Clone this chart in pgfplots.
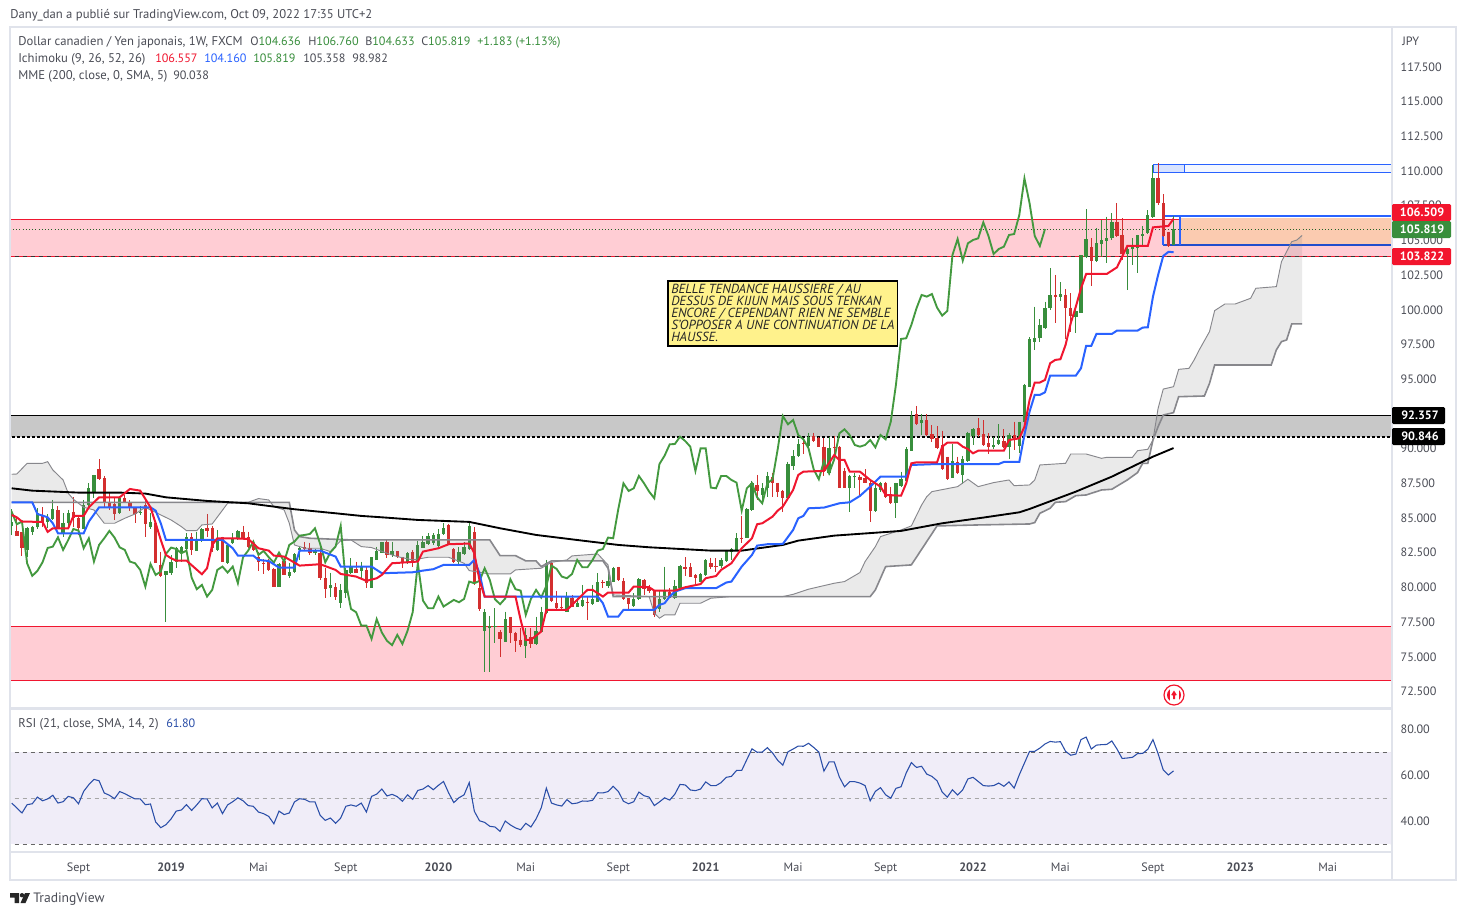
\documentclass[border=0pt]{standalone}
\usepackage{fontspec}
\setmainfont{PT Sans}
\usepackage{pgfplots}
\pgfplotsset{compat=1.18}
\usepackage{pgfplotstable}

\definecolor{framec}{HTML}{E0E3EB}
\definecolor{txt}{HTML}{4A4C55}
\definecolor{upc}{HTML}{388E3C}
\definecolor{downc}{HTML}{D32F2F}
\definecolor{tenkanc}{HTML}{F0162F}
\definecolor{kijunc}{HTML}{2962FF}
\definecolor{chikouc}{HTML}{43993F}
\definecolor{cloudc}{HTML}{87878C}
\definecolor{pinkz}{HTML}{FFCDD4}
\definecolor{grayz}{HTML}{C8C8C8}
\definecolor{linered}{HTML}{F0162F}
\definecolor{peach}{HTML}{FBCBB0}
\definecolor{toolblue}{HTML}{2962FF}
\definecolor{notefill}{HTML}{FFF28C}
\definecolor{rsib}{HTML}{F0EDF8}
\definecolor{rsil}{HTML}{2A4EA8}
\definecolor{tagred}{HTML}{F2152D}

\newcommand\tvf{\fontsize{9.1}{11}\selectfont}
\newcommand\tvt{\fontsize{9.5}{11}\selectfont}

% week index, open, high, low, close
\pgfplotstableread{
i o h l c
0 84.43 85.63 83.78 84.74
1 84.07 85.10 83.71 83.71
2 84.02 84.02 82.27 82.87
3 82.70 84.38 82.22 84.31
4 84.00 84.43 83.78 84.38
5 84.33 85.70 84.24 85.39
6 85.22 85.77 84.38 84.74
7 84.72 85.27 84.26 85.05
8 84.93 86.30 84.86 85.65
9 85.58 85.87 84.19 84.26
10 83.85 85.34 83.66 84.62
11 84.62 85.58 84.26 85.39
12 85.46 86.49 84.38 84.98
13 85.03 85.10 83.78 84.26
14 84.21 86.30 84.21 85.94
15 85.94 87.50 85.77 87.16
16 86.90 88.10 86.42 88.10
17 88.51 89.23 87.74 87.84
18 87.86 88.03 85.77 86.06
19 86.11 86.90 85.58 85.77
20 86.01 86.54 84.86 85.29
21 85.34 86.59 85.29 86.47
22 86.42 86.66 86.06 86.06
23 86.16 86.30 85.53 85.77
24 85.75 85.77 84.67 85.27
25 85.36 85.87 85.22 85.44
26 85.94 86.30 83.66 84.55
27 84.33 85.34 84.19 84.74
28 84.67 84.74 81.74 81.74
29 81.62 82.58 80.73 80.83
30 80.90 81.19 77.54 81.19
31 81.07 82.34 80.90 81.81
32 81.86 82.94 81.38 82.84
33 82.58 82.99 81.86 82.94
34 82.75 83.90 82.70 83.61
35 83.61 83.90 82.34 82.70
36 82.65 84.02 82.63 83.42
37 83.35 84.26 83.30 84.21
38 84.31 85.29 83.66 84.09
39 84.31 84.43 82.53 82.82
40 82.70 84.14 82.65 83.54
41 83.61 83.66 81.86 81.86
42 81.79 83.13 81.69 83.06
43 83.18 83.90 83.13 83.54
44 83.47 84.14 83.42 84.07
45 84.00 84.43 83.54 83.59
46 83.61 84.02 82.82 82.89
47 83.06 83.37 82.65 82.70
48 82.17 82.58 81.21 81.86
49 81.79 82.03 80.97 81.74
50 81.93 82.03 81.21 81.26
51 81.33 81.38 80.06 80.06
52 80.06 81.74 80.01 81.69
53 81.93 81.98 80.90 80.90
54 80.83 81.74 80.66 81.14
55 81.14 82.46 81.07 82.41
56 82.70 82.99 81.98 82.87
57 82.89 83.30 82.65 82.77
58 82.82 83.23 82.34 82.46
59 82.46 82.75 82.34 82.65
60 82.51 82.82 80.54 80.71
61 80.66 81.38 79.22 79.87
62 79.94 81.07 79.34 80.18
63 80.01 80.30 79.10 79.34
64 78.91 80.25 78.55 79.82
65 79.58 81.38 79.22 81.26
66 81.02 82.10 80.97 81.50
67 81.33 81.86 81.02 81.07
68 81.21 81.86 80.66 81.50
69 81.26 81.50 79.94 80.30
70 79.99 82.17 79.99 82.17
71 81.98 82.94 81.98 82.65
72 82.51 83.30 82.46 83.30
73 83.30 83.47 82.10 82.34
74 82.32 83.30 82.22 82.63
75 82.63 82.63 82.10 82.17
76 82.22 82.22 81.38 81.79
77 81.74 82.53 81.69 82.51
78 82.58 82.70 81.50 81.86
79 81.93 83.37 81.74 83.06
80 82.87 83.71 82.82 83.30
81 83.13 83.90 83.06 83.73
82 83.23 83.90 83.06 83.78
83 82.99 84.19 82.94 83.85
84 83.85 84.62 83.78 84.26
85 84.50 84.57 83.06 83.13
86 82.75 82.82 81.74 81.81
87 81.86 82.89 81.62 82.53
88 82.39 83.30 82.34 82.94
89 82.75 84.74 82.70 84.43
90 83.97 84.33 80.18 80.35
91 79.94 80.90 78.31 78.45
92 76.89 78.43 73.94 78.21
93 77.04 77.95 73.87 77.25
94 77.18 78.50 76.03 77.25
95 76.77 76.94 75.02 76.29
96 76.10 78.26 76.05 77.71
97 77.88 77.90 75.98 76.75
98 76.70 76.82 75.38 76.15
99 76.22 77.06 75.74 75.84
100 75.81 77.06 74.90 76.58
101 76.41 77.06 75.67 75.93
102 75.93 77.90 75.86 76.87
103 76.82 78.62 76.77 78.21
104 78.14 81.98 78.09 81.74
105 81.74 81.86 78.98 79.05
106 78.86 79.77 78.43 78.50
107 78.57 79.34 78.43 78.50
108 78.26 79.70 78.21 79.34
109 79.27 79.46 78.57 78.62
110 78.62 79.22 78.57 78.86
111 78.67 80.18 78.62 79.10
112 78.98 79.34 77.66 78.93
113 78.81 80.18 78.74 79.17
114 78.98 81.02 78.93 80.42
115 80.42 80.54 79.94 80.30
116 80.11 81.50 79.94 80.47
117 80.42 81.50 80.37 81.38
118 81.48 81.50 80.47 80.54
119 80.47 80.66 79.10 79.15
120 79.22 79.22 78.38 78.79
121 78.69 79.58 78.62 79.20
122 79.15 80.66 79.10 80.59
123 80.54 80.61 79.46 79.87
124 79.94 80.18 79.58 79.77
125 79.77 79.82 77.90 78.02
126 78.43 79.82 78.26 79.17
127 79.15 81.50 79.10 79.82
128 79.70 79.94 79.22 79.27
129 79.22 80.54 79.17 80.11
130 79.99 81.62 79.94 81.57
131 81.48 82.17 80.83 81.33
132 81.45 81.74 80.73 80.78
133 80.90 80.97 80.25 80.66
134 80.42 81.07 80.37 80.97
135 80.90 82.03 80.85 81.98
136 81.74 82.15 81.31 81.45
137 81.55 82.10 81.14 81.45
138 81.55 82.10 81.38 81.98
139 81.93 82.70 81.86 82.65
140 82.53 82.82 81.98 82.77
141 82.70 83.90 82.65 83.59
142 83.59 85.15 83.18 83.54
143 83.59 85.70 83.54 85.65
144 85.58 87.69 85.53 87.50
145 87.38 88.10 86.30 86.95
146 86.66 87.50 86.01 87.14
147 87.19 88.34 86.54 88.03
148 87.93 88.27 86.49 87.50
149 87.55 87.55 86.54 86.90
150 86.97 87.02 85.46 86.42
151 86.42 89.06 86.37 88.89
152 88.77 89.90 88.46 89.49
153 89.47 90.67 89.42 90.31
154 90.38 90.74 89.61 90.33
155 90.19 91.15 90.09 90.86
156 90.91 91.15 90.50 90.55
157 90.79 90.86 90.09 90.14
158 90.14 90.74 88.03 88.39
159 88.22 90.86 88.10 90.02
160 90.14 90.91 89.18 90.02
161 90.14 90.19 87.14 87.19
162 88.41 88.58 87.14 87.14
163 87.19 88.10 85.46 88.03
164 87.93 88.22 87.14 88.03
165 87.98 88.10 86.66 87.74
166 87.86 88.51 87.50 87.55
167 87.55 87.74 84.74 85.53
168 85.51 87.50 85.46 87.14
169 87.02 87.62 86.90 87.50
170 87.55 87.62 86.42 86.49
171 86.66 87.26 86.01 86.06
172 86.06 87.55 84.98 87.50
173 87.33 88.34 87.26 87.79
174 87.69 90.09 87.62 89.95
175 89.85 92.73 89.80 92.35
176 92.49 93.07 91.70 91.75
177 91.82 92.49 90.98 92.06
178 92.06 92.49 90.93 90.98
179 91.05 91.70 90.50 90.67
180 90.79 91.63 89.95 90.02
181 90.26 91.29 88.46 88.51
182 89.42 89.42 87.74 87.79
183 87.91 90.31 87.86 89.11
184 89.06 89.42 88.17 88.22
185 88.10 89.47 87.45 89.23
186 89.13 91.22 89.06 91.10
187 90.93 91.46 90.26 91.39
188 91.46 92.18 90.86 90.98
189 91.05 92.06 90.19 90.26
190 90.38 91.10 89.61 90.14
191 90.14 90.86 89.95 90.26
192 90.33 91.75 90.26 90.62
193 90.55 91.39 90.02 90.09
194 90.14 91.10 89.25 90.98
195 90.98 91.94 89.90 90.67
196 90.19 91.94 89.71 91.94
197 91.95 94.66 91.90 94.59
198 94.47 98.02 94.47 97.90
199 97.71 100.23 97.11 97.95
200 97.95 99.32 97.71 98.91
201 98.67 100.59 98.62 100.11
202 100.11 102.99 99.99 101.07
203 101.07 102.51 99.08 100.95
204 100.95 101.98 100.66 101.14
205 101.07 101.48 97.88 100.16
206 100.16 101.19 98.43 99.58
207 99.51 100.25 98.36 99.92
208 99.80 103.95 99.75 103.95
209 103.78 107.26 103.71 105.10
210 104.50 105.15 101.74 103.54
211 103.54 105.87 103.47 104.79
212 104.72 106.47 103.83 105.03
213 104.98 106.71 103.35 105.15
214 105.15 106.95 105.03 106.30
215 106.35 107.67 105.27 105.32
216 105.39 106.59 103.59 104.02
217 104.02 104.67 101.43 104.38
218 104.36 105.15 103.23 104.55
219 104.43 105.39 102.68 105.39
220 105.32 106.04 104.55 105.46
221 105.51 107.19 105.46 106.83
222 106.71 110.43 106.59 109.47
223 109.52 110.55 107.55 107.67
224 107.67 108.34 105.27 105.32
225 105.63 105.63 104.55 104.60
226 104.636 106.760 104.633 105.819
}\ohlc

\pgfplotstableread{
i p
0 85.22
1 85.05
2 84.74
6 84.72
7 84.00
8 84.26
11 84.26
12 85.15
14 85.15
15 85.77
17 86.49
21 86.49
23 87.09
25 86.97
27 85.77
28 84.62
29 83.42
30 82.34
31 82.10
32 81.93
34 81.93
37 80.95
38 81.38
39 83.06
40 83.54
43 83.54
46 83.49
48 82.82
50 82.65
51 82.29
53 82.22
56 81.57
60 81.67
63 81.26
64 80.97
67 80.78
69 80.47
71 80.66
72 80.90
74 81.74
79 81.86
80 82.58
83 82.82
85 83.11
89 83.16
90 82.46
91 80.50
92 79.34
98 79.34
99 77.66
100 76.22
101 76.22
103 76.82
104 78.38
108 78.38
110 79.10
112 79.82
113 79.82
115 79.34
116 79.63
120 79.63
121 80.06
124 80.01
125 79.77
129 79.77
131 80.01
134 80.24
135 80.66
137 80.82
138 81.26
140 81.74
142 82.82
144 83.54
145 84.55
146 84.62
148 85.10
149 85.53
150 85.82
152 87.02
153 88.10
154 88.34
158 88.39
160 89.54
161 89.18
162 89.18
163 88.34
165 88.34
167 87.74
169 87.26
170 86.66
173 86.61
174 87.50
175 88.94
176 89.01
180 89.01
181 90.14
182 90.43
184 90.43
185 90.14
186 89.97
187 89.66
188 89.85
193 89.85
194 90.62
196 90.74
197 91.58
198 93.51
199 94.76
200 94.76
201 94.95
202 96.15
203 96.39
204 96.44
205 97.47
206 99.03
207 100.23
208 101.55
209 102.58
213 102.58
215 103.06
216 103.83
217 104.60
221 104.60
222 105.94
225 106.04
226 106.557
}\tenkan

\pgfplotstableread{
i p
0 86.13
4 86.13
5 85.29
7 85.05
8 84.62
9 83.90
14 83.90
15 84.74
17 85.77
27 85.77
28 85.53
29 84.62
30 83.42
41 83.42
43 82.82
44 82.29
47 82.29
48 81.98
50 81.90
52 81.43
55 81.43
56 82.65
60 82.65
63 82.22
64 81.50
70 81.50
72 81.02
78 81.09
80 81.21
82 81.31
84 81.62
89 81.62
90 81.98
91 81.02
92 79.34
114 79.34
115 78.86
116 77.90
118 77.90
119 78.38
125 78.38
126 78.74
127 78.86
128 79.34
129 79.70
131 79.94
137 79.94
139 80.35
140 80.42
142 81.50
144 82.34
145 83.01
147 83.11
150 83.13
152 84.14
153 84.98
154 85.15
155 85.70
158 85.75
161 86.06
163 86.13
165 86.59
167 87.26
169 87.98
174 87.98
175 88.82
180 88.89
192 88.89
193 89.04
196 89.04
197 91.00
198 92.67
199 93.87
200 93.87
201 94.06
202 95.26
207 95.26
208 95.79
209 97.40
210 97.40
211 98.26
214 98.26
215 98.50
219 98.50
220 98.72
221 98.74
222 100.95
223 102.51
224 103.88
225 104.17
226 104.16
}\kijun

\pgfplotstableread{
i p
0 87.14
4 86.97
13 86.83
21 86.83
26 86.76
30 86.49
38 86.23
46 86.06
55 85.63
63 85.34
68 85.15
72 85.05
79 84.86
89 84.72
95 84.26
102 83.78
111 83.37
118 83.06
124 82.89
136 82.65
142 82.65
150 83.06
153 83.37
160 83.73
173 84.07
181 84.62
189 85.03
196 85.41
198 85.65
207 86.90
214 87.98
222 89.42
226 90.038
}\ema

\pgfplotstableread{
i p
0 88.15
1 88.17
3 88.94
6 88.94
7 89.06
8 88.46
10 87.74
11 86.78
12 86.35
14 85.77
16 85.58
18 84.62
20 84.62
22 84.98
24 85.29
26 85.77
29 85.22
31 84.86
33 84.38
34 84.09
36 84.09
37 84.50
39 84.57
42 86.06
46 86.13
48 86.40
50 86.30
51 85.82
53 85.58
54 84.62
55 83.06
57 82.82
60 82.82
62 82.58
64 83.37
66 83.42
68 82.94
70 82.87
73 82.46
75 82.22
78 81.98
81 82.17
85 82.17
88 81.74
89 81.21
93 80.97
97 80.97
98 81.26
103 81.38
105 81.81
108 81.98
109 82.27
114 82.41
116 81.62
117 79.46
124 79.34
125 78.14
126 77.78
127 78.02
129 78.02
130 78.86
134 78.86
136 79.22
140 79.34
150 79.34
152 79.50
155 79.87
160 80.30
162 80.42
165 81.07
166 81.86
168 82.94
169 83.66
173 84.14
175 84.43
177 85.94
178 86.54
179 86.90
184 87.26
186 87.79
188 87.26
191 87.55
194 87.74
195 87.33
198 87.38
199 87.74
200 88.82
205 88.94
206 89.61
209 89.61
212 89.30
213 89.37
218 89.37
219 89.85
221 89.95
222 90.62
223 92.90
224 94.29
226 94.46
227 95.71
229 95.78
230 96.38
231 97.11
233 98.43
234 99.94
236 100.42
238 100.42
241 100.83
242 101.55
246 101.67
247 103.47
249 104.91
250 105.03
251 105.358
}\spana

\pgfplotstableread{
i p
0 86.13
54 86.13
55 84.14
56 83.66
58 83.54
66 83.42
93 83.42
95 82.29
98 82.29
100 81.91
102 81.91
103 81.50
105 81.91
115 81.91
116 81.38
117 79.34
167 79.34
168 79.82
170 81.50
175 81.62
180 84.43
188 84.50
198 84.57
199 84.67
200 85.34
202 85.70
203 86.13
205 86.18
207 86.61
209 86.66
212 87.02
214 87.07
217 87.74
219 88.27
220 88.94
221 88.94
222 90.62
223 91.58
224 92.42
226 92.59
227 93.74
232 93.79
233 94.70
234 96.02
245 96.02
246 97.11
247 97.71
248 97.83
249 98.99
251 98.982
}\spanb

% span B walked backwards, closes the cloud outline that span A starts
\pgfplotstableread{
i p
251 98.982
249 98.99
248 97.83
247 97.71
246 97.11
245 96.02
234 96.02
233 94.70
232 93.79
227 93.74
226 92.59
224 92.42
223 91.58
222 90.62
221 88.94
220 88.94
219 88.27
217 87.74
214 87.07
212 87.02
209 86.66
207 86.61
205 86.18
203 86.13
202 85.70
200 85.34
199 84.67
198 84.57
188 84.50
180 84.43
175 81.62
170 81.50
168 79.82
167 79.34
117 79.34
116 81.38
115 81.91
105 81.91
103 81.50
102 81.91
100 81.91
98 82.29
95 82.29
93 83.42
66 83.42
58 83.54
56 83.66
55 84.14
54 86.13
0 86.13
}\spanbrev

\pgfplotstableread{
i r
0 47.8
1 45.7
2 43.5
3 47.1
4 47.5
5 50.4
6 48.8
7 49.6
8 51.2
9 47.8
10 48.4
11 50.7
12 50.1
13 47.5
14 52.9
15 55.8
16 58.1
17 57.5
18 52.2
19 51.2
20 49.7
21 52.8
22 51.9
23 50.7
24 49.6
25 49.6
26 47.1
27 47.4
28 39.6
29 37.1
30 38.4
31 40.9
32 44.3
33 44.8
34 47.1
35 44.6
36 47.0
37 49.7
38 49.6
39 45.7
40 47.8
41 43.2
42 47.0
43 48.4
44 50.1
45 48.8
46 46.7
47 46.4
48 43.9
49 43.2
50 42.0
51 38.8
52 44.3
53 42.8
54 43.5
55 48.3
56 49.7
57 49.4
58 48.3
59 48.3
60 42.5
61 40.3
62 41.3
63 39.0
64 41.3
65 46.4
66 47.0
67 46.4
68 47.8
69 43.9
70 50.7
71 51.7
72 53.9
73 50.9
74 51.6
75 50.6
76 48.6
77 51.4
78 49.4
79 53.3
80 53.9
81 55.4
82 53.6
83 55.5
84 57.2
85 52.2
86 48.0
87 50.1
88 51.4
89 56.7
90 44.2
91 40.1
92 39.4
93 37.7
94 37.4
95 35.5
96 40.0
97 38.3
98 37.0
99 36.2
100 39.0
101 37.4
102 40.9
103 45.7
104 54.3
105 47.8
106 47.0
107 46.5
108 49.3
109 47.5
110 47.8
111 48.7
112 48.6
113 49.0
114 52.3
115 52.2
116 52.8
117 55.1
118 52.9
119 48.6
120 47.5
121 48.4
122 52.6
123 51.0
124 50.4
125 46.7
126 48.3
127 50.1
128 49.1
129 51.7
130 55.9
131 55.7
132 53.5
133 53.2
134 53.9
135 57.0
136 55.4
137 55.4
138 56.7
139 59.0
140 59.4
141 62.0
142 62.0
143 66.7
144 71.4
145 69.9
146 70.0
147 71.9
148 69.6
149 66.4
150 64.3
151 70.1
152 71.3
153 72.6
154 72.5
155 73.8
156 72.0
157 70.0
158 61.7
159 65.7
160 65.7
161 59.1
162 54.9
163 57.1
164 57.1
165 56.5
166 55.4
167 48.8
168 52.9
169 54.5
170 51.4
171 49.9
172 54.2
173 54.9
174 60.9
175 65.4
176 63.3
177 63.8
178 60.4
179 59.4
180 57.5
181 52.6
182 50.4
183 53.6
184 51.3
185 53.6
186 58.3
187 59.0
188 57.2
189 55.4
190 55.2
191 55.4
192 56.5
193 55.1
194 57.0
195 54.3
196 60.1
197 65.2
198 70.3
199 70.3
200 71.7
201 73.5
202 74.6
203 74.3
204 74.5
205 70.3
206 68.6
207 69.1
208 75.4
209 76.5
210 71.3
211 73.0
212 73.2
213 73.3
214 74.8
215 71.3
216 67.2
217 67.4
218 67.7
219 69.3
220 69.4
221 71.2
222 75.4
223 69.3
224 62.2
225 60.0
226 61.80
}\rsi

% glue the two cloud edges into one outline
\pgfplotstablevertcat{\cloudpoly}{\spana}
\pgfplotstablevertcat{\cloudpoly}{\spanbrev}

\pgfplotsset{
  tv/.style={
    scale only axis, width=1036.5pt, xmin=-0.33, xmax=268.5,
    axis line style={draw=framec, line width=0.8pt},
    tick style={draw=none},
    tick label style={font=\tvf, text=txt},
    x tick label style={yshift=-4.5pt},
    yticklabel pos=right,
    scaled y ticks=false,
  },
  lvl/.style={forget plot, line width=#1},
}

\begin{document}
\begin{tikzpicture}
\path[use as bounding box, fill=white] (0pt,0pt) rectangle (1099.5pt,-686.25pt);

\begin{axis}[tv, at={(7.5pt,-531pt)}, height=510.75pt,
  ymin=71.31, ymax=120.375,
  xtick=\empty,
  ytick={72.5,75,77.5,80,82.5,85,87.5,90,95,97.5,100,102.5,105,107.5,110,112.5,115,117.5},
  y tick label style={anchor=west, xshift=3pt,
    /pgf/number format/fixed, /pgf/number format/fixed zerofill,
    /pgf/number format/precision=3, /pgf/number format/assume math mode=true},
  colormap={updown}{color(0)=(downc) color(1)=(upc)},
  point meta min=0, point meta max=1,
]
% zones
\addplot[forget plot, fill=pinkz, draw=none] coordinates {(-1,103.822)(270,103.822)(270,106.509)(-1,106.509)} --cycle;
\addplot[forget plot, fill=pinkz, draw=none] coordinates {(-1,73.26)(270,73.26)(270,77.22)(-1,77.22)} --cycle;
\addplot[forget plot, fill=grayz, draw=none] coordinates {(-1,90.846)(270,90.846)(270,92.357)(-1,92.357)} --cycle;
\addplot[lvl=0.7pt, linered] coordinates {(-1,106.509)(270,106.509)};
\addplot[lvl=1pt, linered] coordinates {(-1,103.822)(270,103.822)};
\addplot[lvl=1pt, black!80, dash pattern=on 3pt off 3pt] coordinates {(-1,103.822)(270,103.822)};
\addplot[lvl=0.7pt, linered] coordinates {(-1,77.22)(270,77.22)};
\addplot[lvl=0.7pt, linered] coordinates {(-1,73.26)(270,73.26)};
\addplot[lvl=0.8pt, black] coordinates {(-1,92.357)(270,92.357)};
\addplot[lvl=1pt, black, dash pattern=on 2.25pt off 1.5pt] coordinates {(-1,90.846)(270,90.846)};
% position tools
\addplot[forget plot, fill=peach, draw=none] coordinates {(227.3,104.67)(270,104.67)(270,106.6)(227.3,106.6)} --cycle;
\addplot[forget plot, fill=toolblue!18, draw=none] coordinates {(222.1,109.9)(228.1,109.9)(228.1,110.48)(222.1,110.48)} --cycle;
\addplot[forget plot, fill=toolblue!5, draw=none] coordinates {(228.1,109.9)(270,109.9)(270,110.48)(228.1,110.48)} --cycle;
\addplot[lvl=0.8pt, toolblue] coordinates {(222.1,109.9)(270,109.9)};
\addplot[lvl=0.8pt, toolblue] coordinates {(222.1,110.48)(270,110.48)};
\addplot[lvl=0.8pt, toolblue] coordinates {(222.1,109.9)(222.1,110.48)};
\addplot[lvl=0.8pt, toolblue] coordinates {(228.1,109.9)(228.1,110.48)};
\addplot[lvl=1.2pt, toolblue] coordinates {(224,106.74)(270,106.74)};
\addplot[lvl=1.2pt, toolblue!80!black] coordinates {(224,104.67)(270,104.67)};
\addplot[lvl=1.2pt, toolblue] coordinates {(224,104.67)(224,106.74)};
\addplot[lvl=1.2pt, toolblue] coordinates {(227.3,104.67)(227.3,106.74)};
% last price
\addplot[lvl=0.7pt, upc!70!black, dash pattern=on 0.8pt off 1.6pt] coordinates {(-1,105.819)(270,105.819)};
% candles: wick then body, colour from the sign of close - open
\addplot[forget plot, point meta=explicit,
  quiver={u=0, v=\thisrow{l}-\thisrow{h}, every arrow/.append style={-, line width=0.75pt, draw=mapped color}}]
  table[x=i, y=h, meta expr={\thisrow{c}>=\thisrow{o} ? 1 : 0}] {\ohlc};
\addplot[forget plot, point meta=explicit,
  quiver={u=0, v=\thisrow{c}-\thisrow{o}, every arrow/.append style={-, line width=2.5pt, draw=mapped color}}]
  table[x=i, y=o, meta expr={\thisrow{c}>=\thisrow{o} ? 1 : 0}] {\ohlc};
% cloud
\addplot[forget plot, fill=gray, fill opacity=0.16, draw=none] table[x=i,y=p] {\cloudpoly} --cycle;
\addplot[forget plot, cloudc, line width=0.7pt] table[x=i,y=p] {\spana};
\addplot[forget plot, cloudc, line width=1.2pt] table[x=i,y=p] {\spanb};
% indicators
\addplot[forget plot, black, line width=1.4pt] table[x=i,y=p] {\ema};
\addplot[forget plot, chikouc, line width=1.4pt] table[x expr=\thisrow{i}-25,y=c] {\ohlc};
\addplot[forget plot, kijunc, line width=1.5pt] table[x=i,y=p] {\kijun};
\addplot[forget plot, tenkanc, line width=1.5pt] table[x=i,y=p] {\tenkan};
\end{axis}

\begin{axis}[tv, at={(7.5pt,-639pt)}, height=107.25pt,
  ymin=26.52, ymax=88.7,
  xtick={13,31,48,65,83,100,118,135,152,170,187,204,222,239,256},
  xticklabels={Sept,\textbf{2019},Mai,Sept,\textbf{2020},Mai,Sept,\textbf{2021},Mai,Sept,\textbf{2022},Mai,Sept,\textbf{2023},Mai},
  ytick={40,60,80},
  y tick label style={anchor=west, xshift=3pt,
    /pgf/number format/fixed, /pgf/number format/fixed zerofill,
    /pgf/number format/precision=2, /pgf/number format/assume math mode=true},
]
\addplot[forget plot, fill=rsib, draw=none] coordinates {(-1,30)(270,30)(270,70)(-1,70)} --cycle;
\addplot[lvl=0.7pt, black!60, dash pattern=on 3pt off 3pt] coordinates {(-1,70)(270,70)};
\addplot[lvl=0.7pt, black!35, dash pattern=on 3pt off 3pt] coordinates {(-1,50)(270,50)};
\addplot[lvl=0.7pt, black!60, dash pattern=on 3pt off 3pt] coordinates {(-1,30)(270,30)};
\addplot[forget plot, rsil, line width=0.8pt] table[x=i,y=r] {\rsi};
\end{axis}

\begin{scope}[x=0.75pt, y=-0.75pt, font=\tvf, text=txt]
% frame
\draw[framec, line width=1pt] (10,27) rectangle (1456,880);
\draw[framec, line width=1pt] (1392,27) -- (1392,880);
\draw[framec, line width=1pt] (10,852) -- (1392,852);
% legend rows
\node[anchor=base west, inner sep=0, font=\tvt] at (10,18) {Dany\_dan a publié sur TradingView.com, Oct 09, 2022 17:35 UTC+2};
\node[anchor=base west, inner sep=0, font=\tvt] at (18,45) {Dollar canadien / Yen japonais, 1W, FXCM};
\node[anchor=base west, inner sep=0] at (250,45) {O\textcolor{upc}{104.636}};
\node[anchor=base west, inner sep=0] at (308,45) {H\textcolor{upc}{106.760}};
\node[anchor=base west, inner sep=0] at (365,45) {B\textcolor{upc}{104.633}};
\node[anchor=base west, inner sep=0] at (421,45) {C\textcolor{upc}{105.819}};
\node[anchor=base west, inner sep=0, text=upc] at (477,45) {+1.183 (+1.13\%)};
\node[anchor=base west, inner sep=0, font=\tvt] at (18,62) {Ichimoku (9, 26, 52, 26)};
\node[anchor=base west, inner sep=0, text=tenkanc] at (155,62) {106.557};
\node[anchor=base west, inner sep=0, text=kijunc] at (204,62) {104.160};
\node[anchor=base west, inner sep=0, text=upc] at (253,62) {105.819};
\node[anchor=base west, inner sep=0] at (303,62) {105.358};
\node[anchor=base west, inner sep=0] at (352,62) {98.982};
\node[anchor=base west, inner sep=0, font=\tvt] at (18,79) {MME (200, close, 0, SMA, 5)};
\node[anchor=base west, inner sep=0] at (173,79) {90.038};
\node[anchor=base west, inner sep=0, font=\tvt] at (18,727) {RSI (21, close, SMA, 14, 2)};
\node[anchor=base west, inner sep=0, text=rsil] at (166,727) {61.80};
\node[anchor=base west, inner sep=0] at (1402,45) {JPY};
% note
\draw[black, line width=0.8pt, fill=notefill] (668,281) rectangle (897.5,346);
\begin{scope}[font=\fontsize{9.9}{11}\selectfont\itshape, text=black!85]
\node[anchor=base west, inner sep=0] at (671,293.5) {BELLE TENDANCE HAUSSIERE / AU};
\node[anchor=base west, inner sep=0] at (671,305.5) {DESSUS DE KIJUN MAIS SOUS TENKAN};
\node[anchor=base west, inner sep=0] at (671,317.5) {ENCORE / CEPENDANT RIEN NE SEMBLE};
\node[anchor=base west, inner sep=0] at (671,329.5) {S'OPPOSER A UNE CONTINUATION DE LA};
\node[anchor=base west, inner sep=0] at (671,341.5) {HAUSSE.};
\end{scope}
% price tags
\fill[tagred, rounded corners=1] (1392,204) rectangle (1451,221);
\fill[upc, rounded corners=1] (1392,221) rectangle (1451,238);
\fill[tagred, rounded corners=1] (1392,248) rectangle (1451,265);
\fill[black, rounded corners=1] (1392,407) rectangle (1445,424);
\fill[black, rounded corners=1] (1392,428) rectangle (1445,445);
\begin{scope}[font=\tvf\bfseries, text=white]
\node at (1422,212.5) {106.509};
\node at (1422,229.5) {105.819};
\node at (1422,256.5) {103.822};
\node at (1420,415.5) {92.357};
\node at (1420,436.5) {90.846};
\end{scope}
% flag marker
\fill[white] (1174,695) circle (10);
\draw[tagred, line width=0.9pt] (1174,695) circle (10);
\begin{scope}
\clip (1174,695) circle (7);
\fill[tagred] (1165,686) rectangle (1169.5,704);
\fill[tagred] (1178.5,686) rectangle (1183,704);
\end{scope}
\fill[tagred] (1174,690.5) -- (1176.8,695) -- (1175,695.5) -- (1175,699) -- (1173,699) -- (1173,695.5) -- (1171.2,695) -- cycle;
% footer logo
\fill[black!85] (10,893) -- (19,893) -- (19,903) -- (14.5,903) -- (14.5,897.5) -- (10,897.5) -- cycle;
\fill[black!85] (22,895.2) circle (2.2);
\fill[black!85] (25,893) -- (30,893) -- (25.5,903) -- (20.5,903) -- cycle;
\node[anchor=base west, inner sep=0, font=\fontsize{10.2}{12}\selectfont] at (33,902) {TradingView};
\end{scope}
\end{tikzpicture}
\end{document}
